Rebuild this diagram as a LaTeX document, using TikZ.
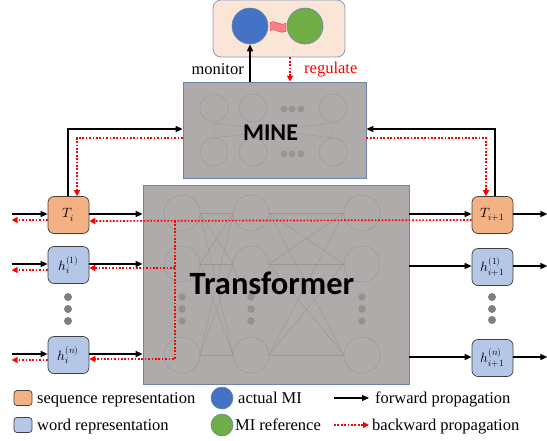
\documentclass[tikz,border=0pt]{standalone}
\usepackage{fontspec}
\usepackage{unicode-math}
\setmainfont{Liberation Serif}
\setmathfont{Latin Modern Math}
\newfontfamily\calibri{Carlito}
\usetikzlibrary{arrows.meta,positioning,calc}

\definecolor{seqorange}{HTML}{F4B183}
\definecolor{wordblue}{HTML}{B4C7E7}
\definecolor{boxgray}{HTML}{AFABAB}
\definecolor{boxedge}{HTML}{6A84AE}
\definecolor{peach}{HTML}{FBE5D6}
\definecolor{miblue}{HTML}{4472C4}
\definecolor{migreen}{HTML}{70AD47}
\definecolor{flagred}{HTML}{FF7C80}
\definecolor{faint}{HTML}{999595}
\definecolor{dotgray}{HTML}{7F7F7F}

\begin{document}
\begin{tikzpicture}[x=1pt,y=-1pt,
  fwd/.style={line width=1.5pt,-{Triangle[length=7pt,width=6pt]}},
  bwd/.style={red,line width=1.7pt,dash pattern=on 1.7pt off 1.7pt,-{Triangle[length=6pt,width=6pt]}},
  rep/.style={draw=black!75,line width=0.7pt,rounded corners=6pt,minimum width=41pt,minimum height=37pt,inner sep=0pt,font=\fontsize{13.5}{15}\selectfont},
  seq/.style={rep,fill=seqorange},
  word/.style={rep,fill=wordblue},
  block/.style={draw=boxedge,line width=0.8pt,fill=boxgray,inner sep=0pt},
  mi/.style={circle,draw=boxedge,line width=0.6pt,minimum size=36pt,inner sep=0pt},
  legtxt/.style={anchor=base west,font=\fontsize{16.5}{18}\selectfont,inner sep=0pt},
  net/.style={faint,line width=0.4pt},
  dot/.style={circle,fill=dotgray,minimum size=8pt,inner sep=0pt}
]
\useasboundingbox (0,0) rectangle (547,440);

% MI box on top
\node[draw=boxedge!80,fill=peach,rounded corners=8pt,line width=0.8pt,minimum width=132pt,minimum height=57pt] (topbox) at (279,28.5) {};
\node[mi,fill=miblue] (mi) at (250,26) {};
\node[mi,fill=migreen] (ref) at (305,26) {};
\filldraw[fill=flagred,draw=flagred!70!black,line width=0.4pt] (270,22.5) .. controls (275,19) and (280,27) .. (286,23) -- (286,31.5) .. controls (280,35) and (275,27) .. (270,30.5) -- cycle;

% MINE block
\node[block,minimum width=183pt,minimum height=96pt] (mine) at (274.5,130) {};
\foreach \x in {214,253,333} {
  \foreach \y in {108,152} \draw[net] (\x,\y) circle (14);
}
\draw[net] (214,123) -- (214,138) -- (333,123) -- (333,138) -- (214,123);
\foreach \x in {284,292,301} {
  \fill[faint] (\x,109) circle (3.5);
  \fill[faint] (\x,154) circle (3.5);
}
\node[font=\calibri\bfseries\fontsize{24}{26}\selectfont,inner sep=0pt,anchor=base] (minelbl) at (270.5,140) {MINE};

% Transformer block
\node[block,minimum width=266pt,minimum height=199pt] (tr) at (276,284.5) {};
\foreach \x in {182,251,362} {
  \foreach \y in {213,264,355} \draw[net] (\x,\y) circle (18);
  \foreach \y in {297,309,321} \draw[net,fill=boxgray!85!black] (\x,\y) circle (3.5);
}
\foreach \a in {213,264,355} {
  \foreach \b in {213,264,355} {
    \draw[net] (200,\a) -- (233,\b);
    \draw[net] (269,\a) -- (344,\b);
  }
}
\node[font=\calibri\bfseries\fontsize{32.5}{34}\selectfont,inner sep=0pt,anchor=base] (trlbl) at (272,294) {Transformer};

% input side
\node[seq] (Ti) at (68.5,215) {$T_i$};
\node[word] (hi1) at (68.5,265) {$h_i^{(1)}$};
\node[word] (hin) at (68.5,355) {$h_i^{(n)}$};
\foreach \y in {297,309,321} \node[dot] (ldot\y) at (68,\y) {};

% output side
\node[seq] (To) at (492.5,215) {$T_{i+1}$};
\node[word] (ho1) at (492.5,267) {$h_{i+1}^{(1)}$};
\node[word] (hon) at (492.5,358) {$h_{i+1}^{(n)}$};
\foreach \y in {297,309,320} \node[dot] (rdot\y) at (492,\y) {};

% forward arrows
\foreach \n in {Ti,hi1,hin} {
  \draw[fwd] ([xshift=-36pt,yshift=1pt]\n.west) -- ([yshift=1pt]\n.west);
  \draw[bwd] ([yshift=-5pt]\n.west) -- ([xshift=-36pt,yshift=-5pt]\n.west);
  \draw[fwd] ([yshift=1pt]\n.east) -- ([yshift=1pt]\n.east -| tr.west);
}
\foreach \n in {To,ho1,hon} {
  \draw[fwd] ([yshift=1pt]\n.west -| tr.east) -- ([yshift=1pt]\n.west);
  \draw[fwd] ([yshift=1pt]\n.east) -- ([xshift=34pt,yshift=1pt]\n.east);
}

% backward path through the transformer
\coordinate (jtop) at (175,221);
\coordinate (jmid) at (175,268);
\coordinate (jbot) at (175,359);
\draw[bwd] ([yshift=-5pt]To.west) -- ([yshift=-6pt]Ti.east);
\draw[bwd] (jtop) -- (jbot) -- (jbot -| hin.east);
\draw[bwd] (jmid) -- (jmid -| hi1.east);

% links to MINE
\draw[fwd] ([xshift=-0.5pt]Ti.north) |- ([yshift=1pt]mine.west);
\draw[bwd] ([yshift=-8pt]mine.west) -| ([xshift=8.5pt]Ti.north);
\draw[fwd] ([xshift=2.5pt]To.north) |- ([yshift=1pt]mine.east);
\draw[bwd] ([yshift=-8pt]mine.east) -| ([xshift=-6.5pt]To.north);

% monitor / regulate
\draw[fwd] (mine.north -| mi.south) -- (mi.south);
\draw[bwd] ([xshift=11pt]topbox.south) -- ([xshift=11pt]topbox.south |- mine.north);
\node[anchor=base east,inner sep=0pt,font=\fontsize{16.5}{18}\selectfont] (monlbl) at (244,74) {monitor};
\node[anchor=base west,inner sep=0pt,red,font=\fontsize{16.5}{18}\selectfont] (reglbl) at (304,73) {regulate};

% legend
\node[seq,minimum width=18pt,minimum height=15pt,rounded corners=3pt] (legseq) at (23,398) {};
\node[legtxt] (legseqtxt) at (37,403) {sequence representation};
\node[word,minimum width=18pt,minimum height=15pt,rounded corners=3pt] (legword) at (23,425) {};
\node[legtxt] (legwordtxt) at (37,430) {word representation};
\node[mi,fill=miblue,minimum size=22pt] (legact) at (222,398) {};
\node[legtxt] (legacttxt) at (238,403) {actual MI};
\node[mi,fill=migreen,minimum size=22pt] (legref) at (222,425) {};
\node[legtxt] (legreftxt) at (235,430) {MI reference};
\node[legtxt] (legfwd) at (375,403) {forward propagation};
\coordinate (fwdstart) at (334,398);
\draw[fwd,line width=1.1pt] (fwdstart) -- ([xshift=-6pt]fwdstart -| legfwd.west);
\node[legtxt] (legbwd) at (372,430) {backward propagation};
\coordinate (bwdstart) at (334,425);
\draw[bwd,line width=1.3pt] (bwdstart) -- ([xshift=-3pt]bwdstart -| legbwd.west);
\end{tikzpicture}
\end{document}
